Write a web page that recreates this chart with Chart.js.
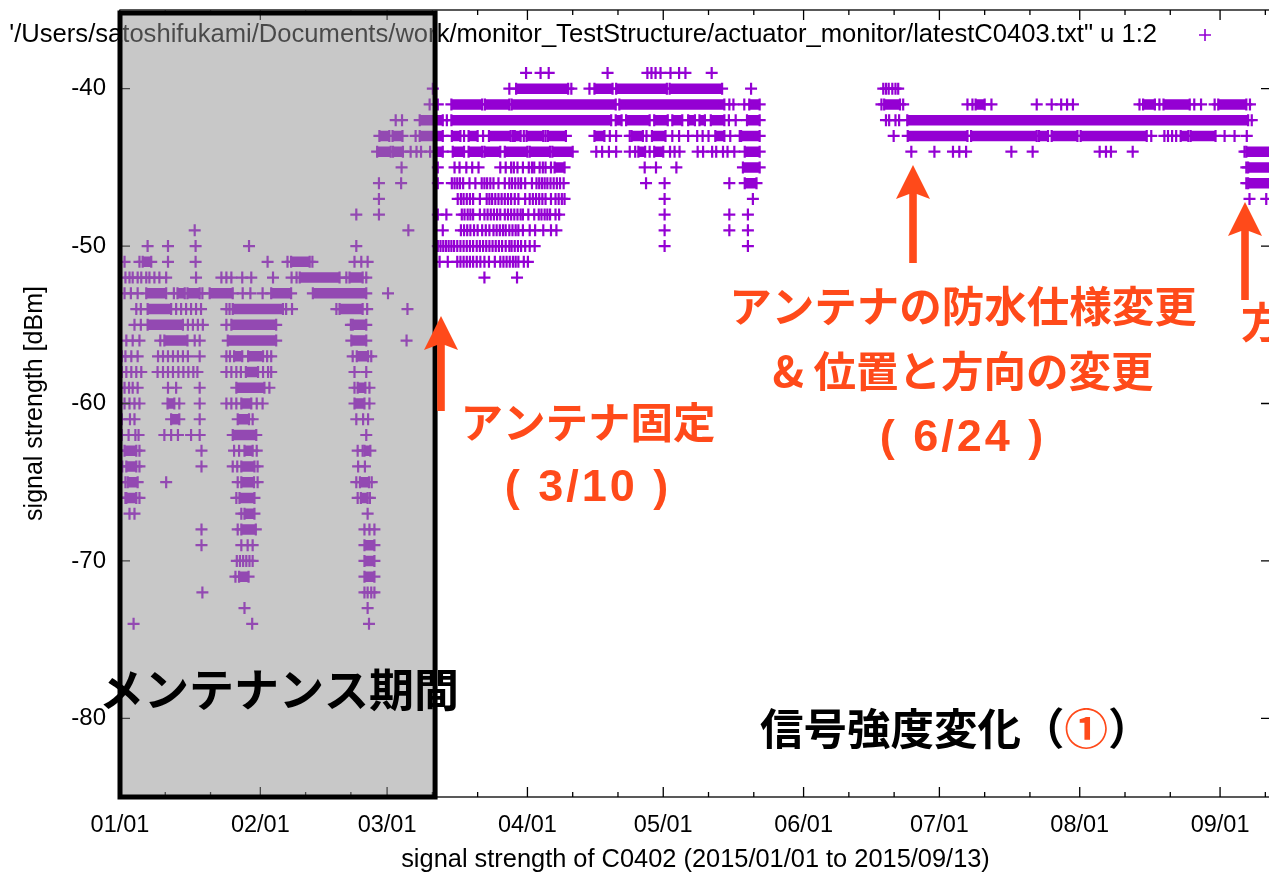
<!DOCTYPE html>
<html>
<head>
<meta charset="utf-8">
<script src="https://cdn.jsdelivr.net/npm/chart.js@4.4.1/dist/chart.umd.min.js"></script>
<style>
  html, body { margin: 0; padding: 0; background: #fff; width: 1269px; height: 873px; overflow: hidden; }
  #wrap { position: relative; width: 1300px; height: 873px; }
</style>
</head>
<body>
<div id="wrap"><canvas id="c" width="1300" height="873"></canvas></div>
<script>
// Day 0 = 2015-01-01. Signal strength in dBm.
const monthStarts = [0, 31, 59, 90, 120, 151, 181, 212, 243];
const monthLabels = ['01/01', '02/01', '03/01', '04/01', '05/01', '06/01', '07/01', '08/01', '09/01'];
const dbmTicks = [-80, -70, -60, -50, -40];
const dayRange = [0, 254.25];
const dbmRange = [-85, -35];
const maintenanceEndDay = 69.6;

const seriesLabel = `'/Users/satoshifukami/Documents/work/monitor_TestStructure/actuator_monitor/latestC0403.txt" u 1:2`;
const xTitle = 'signal strength of C0402 (2015/01/01 to 2015/09/13)';
const yTitle = 'signal strength [dBm]';

// Unbroken stretches of readings: [dBm, first day, last day]
const winterRuns = [
  [-43, 57.3, 59.5], [-43, 60.2, 62.4],
  [-44, 56.8, 59.8], [-44, 60.3, 62.5],
  [-51, 5.0, 6.9], [-51, 37.8, 41.9],
  [-52, 39.7, 48.5], [-52, 50.7, 53.6],
  [-53, 5.8, 10.2], [-53, 12.7, 14.3], [-53, 14.9, 17.6], [-53, 19.8, 24.9], [-53, 33.4, 37.8], [-53, 42.6, 54.4],
  [-54, 6.1, 11.3], [-54, 24.9, 36.0], [-54, 48.5, 53.6],
  [-55, 6.1, 13.9], [-55, 24.6, 34.5], [-55, 51.4, 54.4],
  [-56, 9.8, 14.9], [-56, 23.8, 34.5], [-56, 51.1, 54.4],
  [-57, 25.2, 27.0], [-57, 28.3, 31.6], [-57, 52.3, 54.8],
  [-58, 27.8, 30.5],
  [-59, 25.7, 31.9], [-59, 52.5, 54.2],
  [-60, 10.5, 12.0], [-60, 26.8, 29.0], [-60, 51.8, 54.0],
  [-61, 11.3, 13.1], [-61, 26.0, 28.5],
  [-62, 24.9, 30.1],
  [-63, 1.0, 3.6], [-63, 27.5, 29.3], [-63, 54.0, 55.3],
  [-64, 1.4, 3.6], [-64, 26.8, 29.7],
  [-65, 1.7, 3.9], [-65, 26.8, 29.6], [-65, 53.0, 55.0],
  [-66, 1.4, 3.6], [-66, 26.4, 29.7], [-66, 53.2, 54.7],
  [-67, 27.5, 29.7],
  [-68, 26.8, 30.0],
  [-69, 54.0, 56.2],
  [-70, 54.0, 56.2],
  [-71, 26.3, 28.4], [-71, 54.0, 56.2]
];

const springRuns = [
  [-40, 87.5, 99.0], [-40, 104.8, 108.8], [-40, 109.6, 120.8], [-40, 121.4, 133.0],
  [-41, 73.2, 80.0], [-41, 80.6, 86.0], [-41, 86.5, 109.5], [-41, 110.3, 133.5], [-41, 139.0, 141.3],
  [-42, 66.2, 71.3], [-42, 73.2, 108.5], [-42, 109.5, 110.8], [-42, 111.8, 117.0], [-42, 118.0, 121.0],
  [-42, 122.0, 124.2], [-42, 125.5, 127.0], [-42, 128.0, 129.2], [-42, 130.5, 133.5], [-42, 138.5, 141.3],
  [-43, 66.2, 71.3], [-43, 73.3, 75.2], [-43, 77.0, 79.0], [-43, 81.5, 86.3], [-43, 87.2, 88.5], [-43, 89.8, 93.5],
  [-43, 94.5, 98.5], [-43, 104.8, 107.0], [-43, 113.0, 115.5], [-43, 117.5, 120.5], [-43, 131.5, 133.5], [-43, 137.2, 141.3],
  [-44, 69.5, 71.3], [-44, 73.5, 76.0], [-44, 77.0, 80.0], [-44, 80.5, 84.0], [-44, 85.0, 90.0], [-44, 90.5, 95.0],
  [-44, 95.5, 100.0], [-44, 114.5, 116.0], [-44, 118.0, 120.0], [-44, 138.0, 141.3],
  [-45, 96.0, 98.2], [-45, 137.6, 141.3],
  [-46, 138.0, 140.6]
];

const summerRuns = [
  [-41, 168.8, 172.3], [-41, 189.0, 191.0], [-41, 226.0, 228.6], [-41, 230.5, 236.3], [-41, 242.6, 248.8],
  [-42, 173.9, 249.2],
  [-43, 174.0, 187.2], [-43, 188.0, 202.5], [-43, 203.0, 205.0], [-43, 205.8, 211.5], [-43, 212.2, 226.8],
  [-43, 234.3, 236.0], [-43, 236.5, 242.0],
  [-44, 248.8, 254.5], [-45, 249.2, 254.5], [-46, 249.2, 254.5]
];

// Individual readings: [dBm, [days]]
const winterReadings = [
  [-42, [60.9, 62.3]],
  [-43, [65.3]],
  [-44, [64.2, 65.5]],
  [-45, [62.2]],
  [-46, [57.2, 62.1]],
  [-47, [57.2]],
  [-48, [52.2, 57.2]],
  [-49, [16.5, 63.7]],
  [-50, [6.1, 10.6, 16.7, 28.5, 52.2]],
  [-51, [1.0, 4.3, 10.6, 16.7, 32.6, 37.0, 42.5, 51.8, 53.3, 54.7]],
  [-52, [1.2, 2.1, 2.8, 3.9, 4.7, 5.8, 6.5, 7.6, 8.7, 10.2, 16.8, 22.4, 23.5, 24.6, 27.0, 29.0, 33.8, 37.9, 39.0, 50.0, 54.4]],
  [-53, [1.0, 2.4, 3.9, 11.9, 18.2, 27.1, 28.8, 31.5, 59.2]],
  [-54, [3.6, 4.6, 12.4, 13.5, 14.6, 15.7, 16.8, 17.9, 23.5, 24.2, 36.7, 38.0, 47.8, 54.6, 63.5]],
  [-55, [3.2, 4.6, 15.0, 16.1, 17.2, 18.3, 23.5, 51.0]],
  [-56, [1.4, 2.8, 4.3, 8.9, 16.5, 17.6, 63.3]],
  [-57, [0.4, 1.2, 2.5, 3.9, 8.4, 9.5, 10.6, 11.7, 12.8, 13.9, 15.0, 17.6, 23.5, 24.3, 32.5, 33.4, 51.4, 55.5]],
  [-58, [0.4, 1.4, 2.5, 3.6, 4.7, 8.3, 9.5, 10.6, 11.7, 12.9, 14.0, 15.1, 16.2, 17.1, 23.5, 24.6, 25.7, 26.7, 31.6, 32.7, 33.4, 51.8, 54.4]],
  [-59, [0.0, 1.0, 2.0, 2.8, 3.9, 10.6, 12.4, 17.6, 33.0, 51.8, 55.1]],
  [-60, [0.0, 1.0, 2.1, 3.2, 4.3, 13.1, 17.6, 23.5, 24.6, 25.7, 30.2, 31.5, 55.1]],
  [-61, [0.4, 2.2, 3.2, 17.6, 29.3, 52.2, 53.7, 54.8]],
  [-62, [0.4, 1.9, 3.4, 4.1, 9.8, 11.3, 12.8, 15.7, 17.6, 54.4]],
  [-63, [0.0, 4.3, 18.0, 25.2, 26.3, 30.2, 52.5, 53.6]],
  [-64, [0.5, 4.3, 18.0, 24.9, 25.9, 30.4, 52.6, 54.1]],
  [-65, [1.2, 10.2, 26.0, 30.4, 52.2, 55.6]],
  [-66, [0.0, 1.2, 4.3, 25.7, 52.5, 55.2]],
  [-67, [2.1, 3.2, 26.8, 54.7]],
  [-68, [18.0, 26.0, 54.0, 55.1, 56.2]],
  [-69, [18.0, 26.8, 28.2, 29.3]],
  [-70, [25.8, 26.5, 27.2, 27.9, 28.6, 29.3]],
  [-71, [25.5]],
  [-72, [18.2, 54.0, 54.7, 55.5, 56.2]],
  [-73, [27.5, 54.7]],
  [-74, [3.0, 29.2, 55.0]]
];

const springReadings = [
  [-39, [89.7, 92.9, 94.7, 107.7, 116.5, 117.4, 118.3, 119.4, 121.6, 123.5, 124.9, 130.7]],
  [-40, [69.1, 86.0, 99.7, 103.7, 139.4]],
  [-41, [68.4, 70.2, 134.6, 135.5, 137.9]],
  [-42, [72.2, 134.5, 136.0]],
  [-43, [76.0, 80.2, 86.8, 89.2, 94.0, 108.2, 109.6, 112.6, 116.3, 122.0, 123.5, 125.5, 127.5, 128.7, 130.0, 134.8, 136.9]],
  [-44, [66.5, 68.5, 105.2, 106.5, 108.0, 109.6, 112.6, 113.8, 117.0, 121.5, 122.5, 123.6, 127.6, 128.8, 130.8, 131.7, 133.2, 134.2, 135.7]],
  [-45, [70.2, 73.9, 75.0, 76.5, 77.8, 79.2, 84.0, 85.2, 86.4, 87.0, 87.8, 89.0, 90.3, 91.0, 91.5, 92.7, 93.4, 94.0, 95.2, 115.9, 118.4, 122.9]],
  [-46, [70.2, 73.3, 73.9, 74.5, 75.1, 75.8, 77.2, 78.5, 79.9, 80.5, 81.1, 81.8, 82.5, 83.6, 85.0, 86.0, 86.6, 87.3, 88.0, 88.6, 89.5, 91.0,
         92.0, 92.6, 93.2, 93.8, 94.4, 95.1, 95.8, 96.5, 97.2, 98.0, 116.2, 120.3, 134.6]],
  [-47, [74.6, 75.3, 75.9, 76.6, 77.3, 78.0, 79.5, 81.0, 81.6, 82.2, 82.9, 83.6, 84.3, 85.0, 85.7, 86.4, 87.2, 88.0, 89.5, 90.5, 91.2,
         91.9, 92.6, 93.3, 94.0, 95.2, 96.2, 96.9, 97.6, 98.2, 120.3, 139.8]],
  [-48, [70.2, 72.1, 75.5, 76.1, 76.8, 77.4, 78.0, 79.5, 80.5, 81.2, 81.9, 82.6, 83.3, 84.0, 85.0, 85.7, 86.4, 87.1, 87.8, 88.5, 89.0,
         90.2, 91.5, 92.5, 93.1, 93.8, 94.4, 95.0, 96.2, 97.0, 120.3, 134.6, 138.7]],
  [-49, [71.3, 75.3, 76.0, 76.7, 77.4, 78.2, 79.0, 80.0, 80.8, 81.6, 82.5, 83.2, 83.9, 84.6, 85.2, 86.0, 86.7, 87.4, 88.0, 89.0, 90.5,
         91.7, 93.5, 95.2, 96.4, 120.3, 134.6, 138.7]],
  [-50, [70.2, 70.8, 71.4, 72.0, 72.6, 73.2, 73.8, 74.5, 75.2, 75.9, 76.6, 77.3, 78.0, 78.8, 79.5, 80.2, 80.9, 81.6, 82.3, 83.0, 83.7,
         84.4, 85.2, 86.0, 86.5, 87.2, 87.9, 88.6, 89.5, 90.5, 91.6, 120.3, 138.7]],
  [-51, [70.6, 72.4, 74.5, 75.2, 75.9, 76.6, 77.3, 78.0, 78.8, 79.6, 80.5, 81.5, 82.8, 84.0, 84.7, 85.4, 86.1, 86.8, 87.4, 88.0, 89.2, 90.1]],
  [-52, [80.5, 87.7]]
];

const summerReadings = [
  [-40, [168.6, 169.2, 169.8, 170.6, 171.3, 171.9]],
  [-41, [168.2, 173.0, 187.2, 188.3, 192.5, 202.5, 205.8, 207.9, 209.2, 210.5, 225.2, 229.6, 237.3, 238.8, 241.8, 249.6]],
  [-42, [169.2, 169.9, 171.3, 172.1, 250.0]],
  [-43, [170.9, 227.8, 230.7, 231.5, 232.4, 233.3, 244.0, 246.2, 248.9]],
  [-44, [174.8, 179.9, 184.0, 185.4, 186.9, 196.9, 201.6, 216.4, 217.8, 218.9, 223.7, 248.4]],
  [-45, [248.8]],
  [-46, [248.8]],
  [-47, [249.5, 253.2]]
];

// ---- build Chart.js datasets ----
const VIOLET = '#9400D3';
const ACCENT = '#FF4A1A';
const SANS = '"Liberation Sans", Arial, Helvetica, sans-serif';
const CJK = '"Noto Sans CJK JP", "Noto Sans CJK SC", sans-serif';

const runPoints = [];
[winterRuns, springRuns, summerRuns].forEach(list => list.forEach(([dbm, a, b]) => {
  runPoints.push({ x: a, y: dbm }, { x: b, y: dbm }, { x: b, y: null });
}));
const readingPoints = [];
[winterReadings, springReadings, summerReadings].forEach(list => list.forEach(([dbm, days]) => {
  days.forEach(d => readingPoints.push({ x: d, y: dbm }));
}));

// gnuplot-style frame: border, inward ticks (mirrored), and the key
const frame = {
  id: 'frame',
  afterDatasetsDraw(chart) {
    const { ctx, chartArea: a, scales: { x, y } } = chart;
    ctx.save();
    ctx.strokeStyle = '#000';
    ctx.lineWidth = 1.3;
    ctx.strokeRect(a.left, a.top, a.right - a.left, a.bottom - a.top);
    ctx.beginPath();
    monthStarts.forEach(m => {
      const p = x.getPixelForValue(m);
      ctx.moveTo(p, a.bottom); ctx.lineTo(p, a.bottom - 10);
      ctx.moveTo(p, a.top); ctx.lineTo(p, a.top + 10);
      [10, 20].forEach(off => {
        const v = m + off;
        if (v > dayRange[1]) return;
        const q = x.getPixelForValue(v);
        ctx.moveTo(q, a.bottom); ctx.lineTo(q, a.bottom - 5);
        ctx.moveTo(q, a.top); ctx.lineTo(q, a.top + 5);
      });
    });
    dbmTicks.forEach(v => {
      const p = y.getPixelForValue(v);
      ctx.moveTo(a.left, p); ctx.lineTo(a.left + 10, p);
      ctx.moveTo(a.right, p); ctx.lineTo(a.right - 10, p);
    });
    ctx.stroke();

    // key
    ctx.fillStyle = '#000';
    ctx.font = '25.6px ' + SANS;
    ctx.textAlign = 'right';
    ctx.textBaseline = 'middle';
    ctx.fillText(chart.data.datasets[1].label, 1157, 35);
    ctx.strokeStyle = VIOLET;
    ctx.lineWidth = 1.6;
    ctx.beginPath();
    ctx.moveTo(1199, 35); ctx.lineTo(1211, 35);
    ctx.moveTo(1205, 29); ctx.lineTo(1205, 41);
    ctx.stroke();
    ctx.restore();
  }
};

function arrowUp(ctx, cx, tipY, bottomY) {
  ctx.beginPath();
  ctx.moveTo(cx, tipY);
  ctx.lineTo(cx + 17, tipY + 34);
  ctx.lineTo(cx + 3.8, tipY + 29);
  ctx.lineTo(cx + 3.8, bottomY);
  ctx.lineTo(cx - 3.8, bottomY);
  ctx.lineTo(cx - 3.8, tipY + 29);
  ctx.lineTo(cx - 17, tipY + 34);
  ctx.closePath();
  ctx.fill();
}

function text(ctx, str, x, y, size, color, align) {
  ctx.font = 'bold ' + size + 'px ' + CJK;
  ctx.fillStyle = color;
  ctx.textAlign = align || 'center';
  ctx.textBaseline = 'middle';
  ctx.fillText(str, x, y);
}

// "( 3/10 )" style dates: Latin face, slightly tracked
function dateNote(ctx, str, x, y) {
  ctx.save();
  ctx.font = 'bold 45px ' + SANS;
  ctx.fillStyle = ACCENT;
  ctx.textAlign = 'center';
  ctx.textBaseline = 'middle';
  if ('letterSpacing' in ctx) ctx.letterSpacing = '3px';
  ctx.fillText(str, x, y);
  ctx.restore();
}

// maintenance period shading and the event notes
const notes = {
  id: 'notes',
  afterDraw(chart) {
    const { ctx, chartArea: a, scales: { x } } = chart;
    ctx.save();
    const L = x.getPixelForValue(dayRange[0]);
    const R = x.getPixelForValue(maintenanceEndDay);
    ctx.fillStyle = 'rgba(145,145,145,0.5)';
    ctx.fillRect(L, a.top, R - L, a.bottom - a.top);
    ctx.strokeStyle = '#000';
    ctx.lineWidth = 5;
    ctx.strokeRect(L, a.top + 3, R - L, a.bottom - a.top - 3);

    text(ctx, 'メンテナンス期間', 279, 690, 45, '#000');

    // "信号強度変化（①）" with the circled number in the accent colour
    const size = 43.5;
    ctx.font = 'bold ' + size + 'px ' + CJK;
    const head = '信号強度変化（';
    const w1 = ctx.measureText(head).width;
    const w2 = ctx.measureText('①').width;
    const x0 = 760;
    text(ctx, head, x0, 728, size, '#000', 'left');
    text(ctx, '①', x0 + w1, 728, size, ACCENT, 'left');
    text(ctx, '）', x0 + w1 + w2, 728, size, '#000', 'left');

    ctx.fillStyle = ACCENT;
    arrowUp(ctx, 441, 316, 411);
    arrowUp(ctx, 913, 165, 263);
    arrowUp(ctx, 1245, 202, 300);

    text(ctx, 'アンテナ固定', 588, 422, 42.5, ACCENT);
    dateNote(ctx, '( 3/10 )', 588, 489);
    text(ctx, 'アンテナの防水仕様変更', 963, 306, 42.5, ACCENT);
    text(ctx, '& 位置と方向の変更', 963, 371, 42.5, ACCENT);
    dateNote(ctx, '( 6/24 )', 963, 439);
    text(ctx, '方向の変更', 1241, 322, 42.5, ACCENT, 'left');
    ctx.restore();
  }
};

new Chart(document.getElementById('c'), {
  type: 'scatter',
  data: {
    datasets: [
      {
        label: seriesLabel,
        data: runPoints,
        showLine: true,
        spanGaps: false,
        borderColor: VIOLET,
        backgroundColor: VIOLET,
        borderWidth: 10.5,
        borderCapStyle: 'butt',
        pointStyle: 'cross',
        pointRadius: 6,
        pointHoverRadius: 6,
        pointBorderWidth: 2.2,
        pointBorderColor: VIOLET
      },
      {
        label: seriesLabel,
        data: readingPoints,
        borderColor: VIOLET,
        backgroundColor: VIOLET,
        pointStyle: 'cross',
        pointRadius: 6,
        pointHoverRadius: 6,
        borderWidth: 2.2
      }
    ]
  },
  options: {
    responsive: false,
    animation: false,
    devicePixelRatio: 1,
    events: [],
    layout: { padding: { top: 10, right: 29, left: 0, bottom: 0 } },
    plugins: { legend: { display: false }, tooltip: { enabled: false } },
    scales: {
      x: {
        type: 'linear',
        min: dayRange[0],
        max: dayRange[1],
        grid: { display: false, drawTicks: false },
        border: { display: false },
        afterBuildTicks: s => { s.ticks = monthStarts.map(v => ({ value: v })); },
        afterFit: s => { s.height = 76; s.paddingLeft = 0; s.paddingRight = 0; },
        ticks: {
          autoSkip: false, maxRotation: 0, padding: 14.6, color: '#000',
          font: { family: SANS, size: 23.5 },
          callback: (v, i) => monthLabels[i]
        },
        title: { display: true, text: xTitle, color: '#000', font: { family: SANS, size: 25.4, lineHeight: 1 }, padding: { top: 0, bottom: 0 } }
      },
      y: {
        type: 'linear',
        min: dbmRange[0],
        max: dbmRange[1],
        grid: { display: false, drawTicks: false },
        border: { display: false },
        afterBuildTicks: s => { s.ticks = dbmTicks.map(v => ({ value: v })); },
        afterFit: s => { s.width = 120; s.paddingTop = 0; s.paddingBottom = 0; },
        ticks: { padding: 14, color: '#000', font: { family: SANS, size: 24 } },
        title: { display: true, text: yTitle, color: '#000', font: { family: SANS, size: 25, lineHeight: 1 }, padding: { top: 22.5, bottom: 0 } }
      }
    }
  },
  plugins: [frame, notes]
});
</script>
</body>
</html>
